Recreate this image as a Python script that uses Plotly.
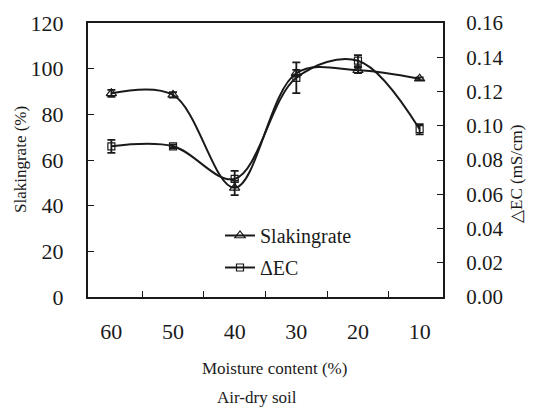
import plotly.graph_objects as go

moisture = ["60", "50", "40", "30", "20", "10"]
slaking_rate = [89.2, 88.5, 47.8, 98.0, 99.3, 95.6]
slaking_err = [1.5, 1.2, 3.2, 1.5, 1.2, 0.6]
delta_ec = [0.088, 0.088, 0.069, 0.128, 0.138, 0.098]
delta_ec_err = [0.0038, 0.001, 0.0047, 0.009, 0.0032, 0.003]

FONT = "Liberation Serif"
INK = "#1a1a1a"

L, R, T, B = 88, 443, 23, 297
W, H = 534, 408

def px(x):
    return (x - L) / (R - L)

def py(y):
    return (B - y) / (B - T)

fig = go.Figure()
fig.add_trace(go.Scatter(
    x=moisture, y=slaking_rate, name="Slakingrate", legendgroup="a",
    mode="lines+markers",
    line=dict(color=INK, width=2, shape="spline", smoothing=1.0),
    marker=dict(symbol="triangle-up-open", size=9, color=INK, line=dict(width=1.2)),
    error_y=dict(type="data", array=slaking_err, visible=True, color=INK, thickness=1.8, width=4),
))
fig.add_trace(go.Scatter(
    x=moisture, y=delta_ec, name="ΔEC", yaxis="y2", legendgroup="b",
    mode="lines+markers",
    line=dict(color=INK, width=2, shape="spline", smoothing=1.0),
    marker=dict(symbol="square-open", size=7, color=INK, line=dict(width=1.2)),
    error_y=dict(type="data", array=delta_ec_err, visible=True, color=INK, thickness=1.8, width=4),
))

fig.update_layout(
    width=W, height=H,
    margin=dict(l=L, r=W - R, t=T, b=H - B),
    paper_bgcolor="white", plot_bgcolor="white",
    font=dict(family=FONT, color=INK, size=20),
    showlegend=True,
    legend=dict(x=px(220), y=py(216), xanchor="left", yanchor="top",
                bgcolor="rgba(0,0,0,0)", font=dict(size=20, family=FONT, color=INK),
                tracegroupgap=3),
    xaxis=dict(type="category", showline=True, linecolor=INK, linewidth=2, mirror=True,
               ticks="inside", ticklen=6, tickcolor=INK, tickwidth=1, tickson="boundaries",
               showgrid=False, zeroline=False, ticklabelstandoff=14, automargin=False,
               tickfont=dict(size=22, family=FONT, color=INK)),
    yaxis=dict(range=[0, 120], dtick=20, showline=True, linecolor=INK, linewidth=2,
               ticks="inside", ticklen=6, tickcolor=INK, tickwidth=1, automargin=False,
               showgrid=False, zeroline=False, ticklabelstandoff=18,
               tickfont=dict(size=22, family=FONT, color=INK)),
    yaxis2=dict(range=[0, 0.16], dtick=0.02, tickformat=".2f", overlaying="y", side="right",
                showline=True, linecolor=INK, linewidth=2, automargin=False,
                ticks="inside", ticklen=6, tickcolor=INK, tickwidth=1,
                showgrid=False, zeroline=False, ticklabelstandoff=17,
                tickfont=dict(size=21, family=FONT, color=INK)),
)

ann = [
    dict(text="Slakingrate (%)", x=px(20), y=py(160), textangle=-90, size=17),
    dict(text="△EC (mS/cm)", x=px(516), y=py(174), textangle=-90, size=17),
    dict(text="Moisture content (%)", x=px(274), y=py(368), textangle=0, size=17),
    dict(text="Air-dry soil", x=px(257), y=py(397), textangle=0, size=17),
]
for a in ann:
    fig.add_annotation(text=a["text"], x=a["x"], y=a["y"], xref="paper", yref="paper",
                       showarrow=False, textangle=a["textangle"], xanchor="center", yanchor="middle",
                       font=dict(size=a["size"], family=FONT, color=INK))

fig.write_html("out.html", config={"displayModeBar": False},
               post_script="document.body.style.margin='0';document.body.style.padding='0';")
